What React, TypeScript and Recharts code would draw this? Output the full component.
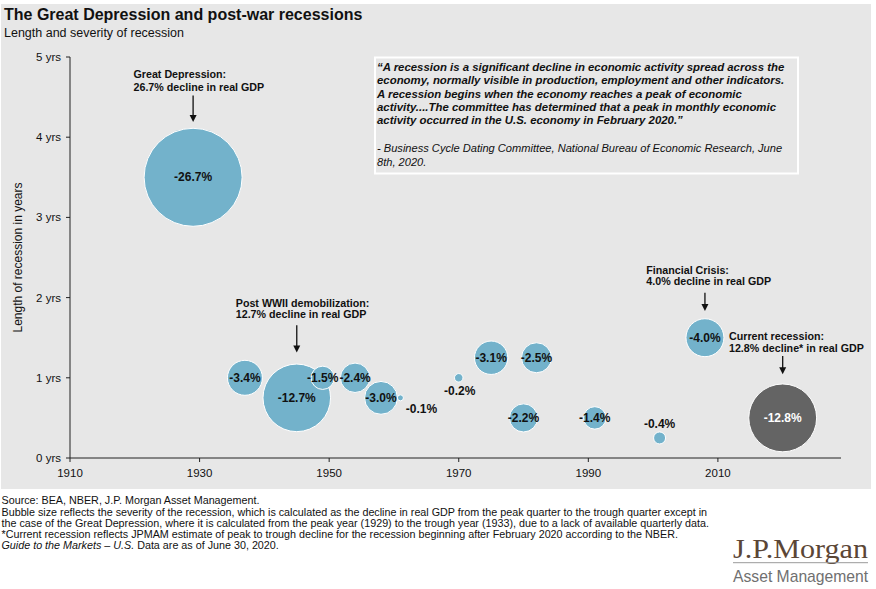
import React from "react";
import { ReferenceDot, Scatter, ScatterChart, XAxis, YAxis, ZAxis } from "recharts";

// past recessions: start year, length in years, peak-to-trough decline in real GDP (%)
const years = [1929, 1937, 1945, 1949, 1954, 1958, 1961, 1970, 1975, 1980, 1982, 1991, 2001, 2008];
const lengths = [3.5, 1, 0.75, 1, 1, 0.75, 0.75, 1, 1.25, 0.5, 1.25, 0.5, 0.25, 1.5];
const declines = [26.7, 3.4, 12.7, 1.5, 2.4, 3.0, 0.1, 0.2, 3.1, 2.2, 2.5, 1.4, 0.4, 4.0];

// current recession (estimate)
const currentYears = [2020];
const currentLengths = [0.5];
const currentDeclines = [12.8];

const xTicks = [1910, 1930, 1950, 1970, 1990, 2010];
const yTicks = [0, 1, 2, 3, 4, 5];

// callouts
const noteTitles = ["Great Depression:", "Post WWII demobilization:", "Financial Crisis:", "Current recession:"];
const noteTexts = [
  "26.7% decline in real GDP",
  "12.7% decline in real GDP",
  "4.0% decline in real GDP",
  "12.8% decline* in real GDP",
];
const noteYears = [1929, 1945, 2008, 2020];
const noteLengths = [3.5, 0.75, 1.5, 0.5];

const quoteLines = [
  "\u201cA recession is a significant decline in economic activity spread across the",
  "economy, normally visible in production, employment and other indicators.",
  "A recession begins when the economy reaches a peak of economic",
  "activity....The committee has determined that a peak in monthly economic",
  "activity occurred in the U.S. economy in February 2020.\u201d",
];
const quoteSource = [
  "- Business Cycle Dating Committee, National Bureau of Economic Research, June",
  "8th, 2020.",
];

const footLines = [
  "Source: BEA, NBER, J.P. Morgan Asset Management.",
  "Bubble size reflects the severity of the recession, which is calculated as the decline in real GDP from the peak quarter to the trough quarter except in",
  "the case of the Great Depression, where it is calculated from the peak year (1929) to the trough year (1933), due to a lack of available quarterly data.",
  "*Current recession reflects JPMAM estimate of peak to trough decline for the recession beginning after February 2020 according to the NBER.",
];

const past = years.map((year, i) => ({ year, length: lengths[i], decline: declines[i] }));
const current = currentYears.map((year, i) => ({ year, length: currentLengths[i], decline: currentDeclines[i] }));

const FONT = "'Liberation Sans', Arial, sans-serif";
const BG = "#e7e7e7";
const BLUE = "#73b2cb";
const GREY = "#646464";
const MAX_R = 49;

// label offsets for the bubbles too small to hold their value
const SMALL_LABEL: Record<number, [number, number]> = {
  1961: [21, 11],
  1970: [1, 13],
  2001: [0, -14],
};

// callout layout, relative to the bubble centre
const NOTE_LAYOUT = [
  { dx: -59.6, t1: -99.7, t2: -86.2, a0: -81.7, a1: -55.4 },
  { dx: -61, t1: -91, t2: -80, a0: -72.7, a1: -45.4 },
  { dx: -58.6, t1: -64, t2: -52.6, a0: -45, a1: -26.6 },
  { dx: -53.7, t1: -77.7, t2: -66, a0: -62, a1: -43.7 },
];

function Bubble(props: any) {
  const { cx, cy, payload, fill, textFill } = props;
  const r = props.width ? props.width / 2 : Math.sqrt(Math.max(props.size || 0, 0) / Math.PI);
  const off = SMALL_LABEL[payload.year];
  const lx = off ? cx + off[0] : cx;
  const ly = off ? cy + off[1] : cy;
  return (
    <g>
      <circle cx={cx} cy={cy} r={r} fill={fill} stroke="#ffffff" strokeWidth={1} />
      <text
        x={lx}
        y={ly}
        textAnchor="middle"
        dominantBaseline="central"
        fontSize={12}
        fontWeight="bold"
        fill={off ? "#111" : textFill}
      >
        {`-${payload.decline.toFixed(1)}%`}
      </text>
    </g>
  );
}

function Note({ cx, cy, idx }: { cx: number; cy: number; idx: number }) {
  const l = NOTE_LAYOUT[idx];
  const tip = cy + l.a1;
  return (
    <g>
      <text x={cx + l.dx} y={cy + l.t1} fontSize={10.7} fontWeight="bold" fill="#111">
        {noteTitles[idx]}
      </text>
      <text x={cx + l.dx} y={cy + l.t2} fontSize={10.7} fontWeight="bold" fill="#111">
        {noteTexts[idx]}
      </text>
      <line x1={cx} x2={cx} y1={cy + l.a0} y2={tip - 5} stroke="#111" strokeWidth={1.3} />
      <polygon points={`${cx - 3.5},${tip - 7} ${cx + 3.5},${tip - 7} ${cx},${tip}`} fill="#111" />
    </g>
  );
}

function Backdrop() {
  return (
    <svg width={876} height={589} style={{ position: "absolute", left: 0, top: 0 }} fontFamily={FONT}>
      <rect x={0} y={0} width={876} height={589} fill="#ffffff" />
      <rect x={1} y={4} width={870} height={485} fill={BG} />
      <text x={4} y={20} fontSize={16} fontWeight="bold" fill="#111">
        The Great Depression and post-war recessions
      </text>
      <text x={4} y={36.7} fontSize={12.5} fill="#111">
        Length and severity of recession
      </text>

      <rect x={375} y={57.5} width={423} height={116} fill={BG} stroke="#ffffff" strokeWidth={2} />
      {quoteLines.map((s, i) => (
        <text key={s} x={377} y={71 + i * 13.3} fontSize={11.4} fontWeight="bold" fontStyle="italic" fill="#111">
          {s}
        </text>
      ))}
      {quoteSource.map((s, i) => (
        <text key={s} x={377} y={152.3 + i * 13.2} fontSize={11.1} fontStyle="italic" fill="#111">
          {s}
        </text>
      ))}

      {footLines.map((s, i) => (
        <text key={s} x={1.5} y={504.3 + i * 11.2} fontSize={10.75} fill="#111">
          {s}
        </text>
      ))}
      <text x={1.5} y={504.3 + 4 * 11.2} fontSize={10.75} fill="#111">
        <tspan fontStyle="italic">Guide to the Markets – U.S.</tspan> Data are as of June 30, 2020.
      </text>

      <text
        x={733}
        y={557.7}
        fontSize={28}
        textLength={135}
        lengthAdjust="spacingAndGlyphs"
        fontFamily="'Liberation Serif', 'Times New Roman', serif"
        fill="#5b4636"
      >
        J.P.Morgan
      </text>
      <line x1={733} x2={868} y1={562.7} y2={562.7} stroke="#9a9a9a" strokeWidth={1} />
      <text x={733} y={582} fontSize={15.7} fill="#707070">
        Asset Management
      </text>
    </svg>
  );
}

export default function App() {
  return (
    <div style={{ position: "absolute", left: 0, top: 0, width: 876, height: 589, fontFamily: FONT, overflow: "hidden" }}>
      <Backdrop />
      <div style={{ position: "absolute", left: 0, top: 0 }}>
        <ScatterChart width={876} height={490} margin={{ top: 57, right: 35, bottom: 0, left: 0 }}>
          <XAxis
            type="number"
            dataKey="year"
            domain={[1910, 2029]}
            ticks={xTicks}
            interval={0}
            height={32}
            stroke="#222"
            tickSize={4}
            tickMargin={7}
            tick={{ fill: "#111", fontSize: 11.5 }}
          />
          <YAxis
            type="number"
            dataKey="length"
            domain={[0, 5]}
            ticks={yTicks}
            interval={0}
            width={70}
            stroke="#222"
            tickSize={4}
            tickMargin={5}
            tick={{ fill: "#111", fontSize: 11.5 }}
            tickFormatter={(v: number) => `${v} yrs`}
            label={{
              value: "Length of recession in years",
              angle: -90,
              position: "insideLeft",
              offset: 18,
              style: { textAnchor: "middle", fontSize: 12, fill: "#111" },
            }}
          />
          <ZAxis type="number" dataKey="decline" domain={[0, 26.7]} range={[0, Math.PI * MAX_R * MAX_R]} />
          <Scatter
            data={past}
            isAnimationActive={false}
            shape={(p: any) => <Bubble {...p} fill={BLUE} textFill="#111" />}
          />
          <Scatter
            data={current}
            isAnimationActive={false}
            shape={(p: any) => <Bubble {...p} fill={GREY} textFill="#ffffff" />}
          />
          {noteYears.map((yr, i) => (
            <ReferenceDot
              key={yr}
              x={yr}
              y={noteLengths[i]}
              r={1}
              ifOverflow="visible"
              shape={(p: any) => <Note cx={p.cx} cy={p.cy} idx={i} />}
            />
          ))}
        </ScatterChart>
      </div>
    </div>
  );
}
